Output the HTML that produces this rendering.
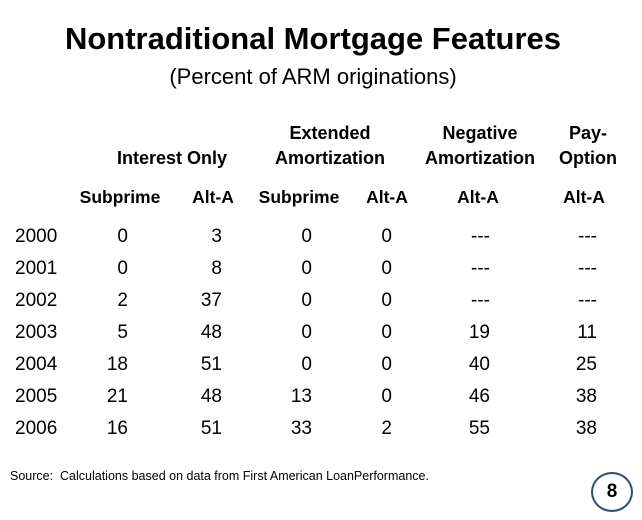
<!DOCTYPE html>
<html><head><meta charset="utf-8"><style>
body{margin:0;width:642px;height:520px;background:#fff;position:relative;overflow:hidden;font-family:"Liberation Sans",sans-serif;color:#000}
.a{position:absolute;white-space:nowrap}
.c{transform:translateX(-50%);text-align:center}
.r{transform:translateX(-100%);text-align:right}
.h{font-size:18px;font-weight:bold;line-height:25px}
.s{font-size:17.5px;font-weight:bold}
.v{font-size:19px}
</style></head><body>
<div class="a c" style="left:313px;top:21px;font-size:31px;font-weight:bold">Nontraditional Mortgage Features</div>
<div class="a c" style="left:313px;top:64px;font-size:22px">(Percent of ARM originations)</div>
<div class="a c h" style="left:172px;top:146px">Interest Only</div>
<div class="a c h" style="left:330px;top:121px">Extended<br>Amortization</div>
<div class="a c h" style="left:480px;top:121px">Negative<br>Amortization</div>
<div class="a c h" style="left:588px;top:121px">Pay-<br>Option</div>
<div id="tbl"></div>
<div class="a" style="left:10px;top:469px;font-size:12.5px">Source:&nbsp; Calculations based on data from First American LoanPerformance.</div>
<div class="a" style="left:591px;top:472px;width:38px;height:36px;border:2.5px solid #2f4a73;border-radius:50%;text-align:center;line-height:36px;font-weight:bold;font-size:19px">8</div>
<script>
const years=["2000","2001","2002","2003","2004","2005","2006"];
const subLabels=["Subprime","Alt-A","Subprime","Alt-A","Alt-A","Alt-A"];
const ioSubprime=["0","0","2","5","18","21","16"];
const ioAltA=["3","8","37","48","51","48","51"];
const extSubprime=["0","0","0","0","0","13","33"];
const extAltA=["0","0","0","0","0","0","2"];
const negAltA=["---","---","---","19","40","46","55"];
const payAltA=["---","---","---","11","25","38","38"];
const cols=[ioSubprime,ioAltA,extSubprime,extAltA,negAltA,payAltA];
const colRight=[128,222,312,392,490,597];
const subCenter=[120,213,299,387,478,584];
const tbl=document.getElementById('tbl');
subLabels.forEach((t,i)=>{const d=document.createElement('div');d.className='a c s';d.style.left=subCenter[i]+'px';d.style.top='187px';d.textContent=t;


tbl.appendChild(d);});
years.forEach((y,r)=>{const top=226+r*32;
const d=document.createElement('div');d.className='a v';d.style.left='15px';d.style.top=top+'px';d.textContent=y;


tbl.appendChild(d);
cols.forEach((c,i)=>{const e=document.createElement('div');e.className='a r v';e.style.left=colRight[i]+'px';e.style.top=top+'px';e.textContent=c[r];


tbl.appendChild(e);});});
</script>
</body></html>
